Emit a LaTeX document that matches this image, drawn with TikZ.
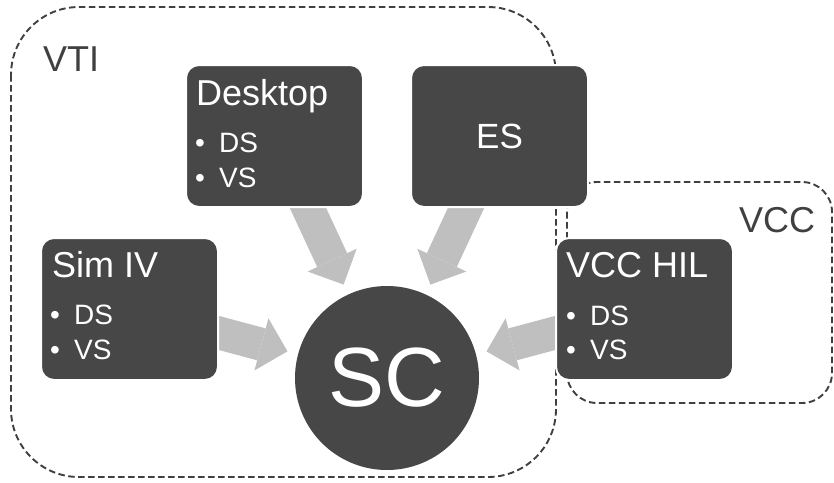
\documentclass[tikz,border=0pt]{standalone}
\usepackage{fontspec}
\setmainfont{Liberation Sans}
\usetikzlibrary{arrows.meta,calc}
\definecolor{boxgray}{HTML}{474747}
\definecolor{arrowgray}{HTML}{BFBFBF}
\definecolor{dashgray}{HTML}{404040}
\begin{document}
\begin{tikzpicture}[x=1pt,y=1pt,
  box/.style={draw=white, line width=2pt, fill=boxgray, rounded corners=13pt,
    minimum width=177pt, minimum height=142pt, inner sep=0pt, text=white,
    font=\fontsize{35}{35}\selectfont},
  container/.style={draw=dashgray, line width=1.9pt, dash pattern=on 6.5pt off 3.5pt},
  bigarrow/.style={draw=arrowgray, line width=33pt,
    -{Triangle[length=27pt,width=54pt,line width=0pt]}},
  title/.style={text=white, font=\fontsize{36}{36}\selectfont, anchor=base west, inner sep=0pt},
  item/.style={text=white, font=\fontsize{28}{28}\selectfont, anchor=base west, inner sep=0pt},
  grouplabel/.style={text=dashgray, font=\fontsize{36}{36}\selectfont, anchor=base west, inner sep=0pt}]

\useasboundingbox (0,0) rectangle (834,-482);

% containers
\draw[container, rounded corners=68pt] (11,-7) rectangle (556,-477);
\draw[container, rounded corners=30pt] (567,-182) rectangle (832,-403);
\node[grouplabel] (vtilabel) at (43,-71) {VTI};
\node[grouplabel] (vcclabel) at (739,-232) {VCC};

% node positions
\coordinate (deskc) at (274.5,-136);
\coordinate (esc) at (499.5,-136);
\coordinate (simc) at (129.5,-309);
\coordinate (hilc) at (644.5,-309);
\coordinate (scc) at (387,-378);

% arrows (drawn under the boxes)
\draw[bigarrow] (deskc) -- ($(scc)!103pt!(deskc)$);
\draw[bigarrow] (esc) -- ($(scc)!103pt!(esc)$);
\draw[bigarrow] (simc) -- ($(scc)!103pt!(simc)$);
\draw[bigarrow] (hilc) -- ($(scc)!103pt!(hilc)$);

% boxes
\node[box] (desk) at (deskc) {};
\node[box] (es) at (esc) {ES};
\node[box] (sim) at (simc) {};
\node[box] (hil) at (hilc) {};
\node[circle, fill=boxgray, minimum size=184pt, inner sep=0pt, text=white,
  font=\fontsize{84}{84}\selectfont] (sc) at (scc) {SC};

% Desktop texts (L=187, T=66)
\node[title] (deskt) at (196,-105) {Desktop};
\node[item] (deskb1) at (195,-152) {•};
\node[item] (deskb2) at (195,-187) {•};
\node[item] (deskds) at (219,-152) {DS};
\node[item] (deskvs) at (219,-187) {VS};

% Sim IV texts (L=42, T=239)
\node[title] (simt) at (52,-277) {Sim IV};
\node[item] (simb1) at (50,-324) {•};
\node[item] (simb2) at (50,-359) {•};
\node[item] (simds) at (74,-324) {DS};
\node[item] (simvs) at (74,-359) {VS};

% VCC HIL texts (L=557, T=239)
\node[title] (hilt) at (566,-277) {VCC HIL};
\node[item] (hilb1) at (566,-325) {•};
\node[item] (hilb2) at (566,-359) {•};
\node[item] (hilds) at (590,-325) {DS};
\node[item] (hilvs) at (590,-359) {VS};
\end{tikzpicture}
\end{document}
